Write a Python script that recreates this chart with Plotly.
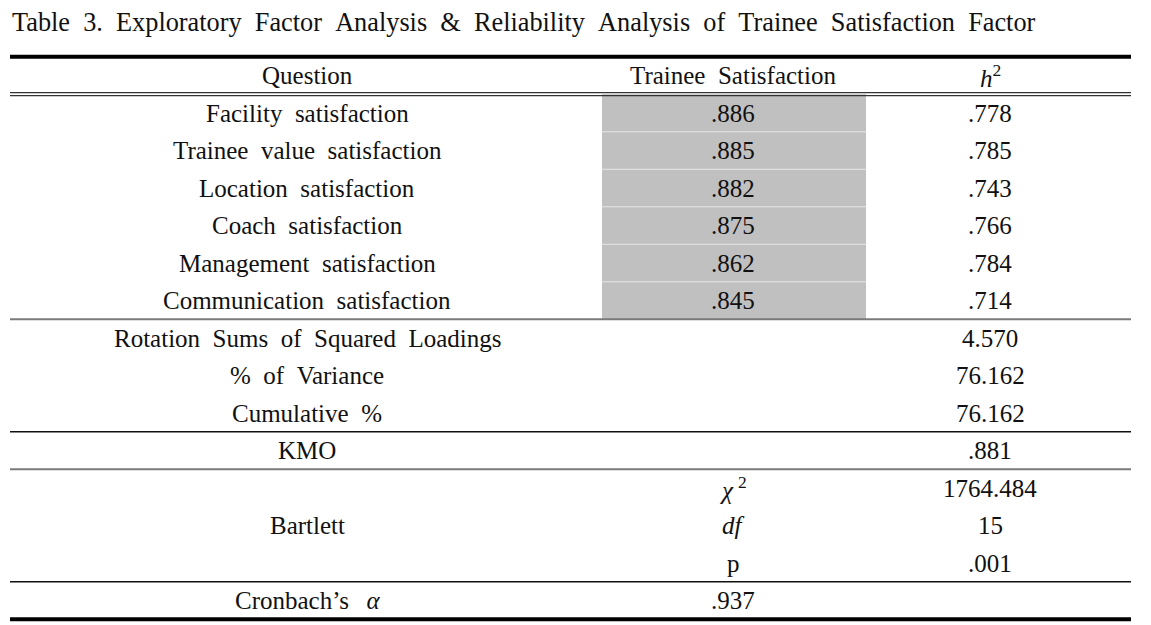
import plotly.graph_objects as go

# ---------------- data ----------------
title = "Table 3. Exploratory Factor Analysis & Reliability Analysis of Trainee Satisfaction Factor"
headers = ["Question", "Trainee Satisfaction", "<i>h</i><sup>2</sup>"]
questions = ["Facility satisfaction", "Trainee value satisfaction", "Location satisfaction",
             "Coach satisfaction", "Management satisfaction", "Communication satisfaction"]
loadings = [".886", ".885", ".882", ".875", ".862", ".845"]
communalities = [".778", ".785", ".743", ".766", ".784", ".714"]
summary_labels = ["Rotation Sums of Squared Loadings", "% of Variance", "Cumulative %"]
summary_values = ["4.570", "76.162", "76.162"]
kmo_label = "KMO"
kmo_value = ".881"
bartlett_label = "Bartlett"
bartlett_stats = ["<i>χ</i>\u2009<sup>2</sup>", "<i>df</i>", "p"]
bartlett_values = ["1764.484", "15", ".001"]
cronbach_label = "Cronbach\u2019s\u2002\u2009<i>α</i>"
cronbach_value = ".937"

# ---------------- layout helpers ----------------
W, H = 1151, 625
X0, X1 = 10, 1131
COLX = [307, 733, 990]
ROW0 = 75.5
RH = 37.5
FONT = "Liberation Serif"
FS = 25
FS_TITLE = 26.3
SP = "\u2002"  # wide word gap as in the source typeface


def wide(s):
    return s.replace(" ", SP)


def yc(k):
    return ROW0 + RH * k


def yb(k):  # boundary below row k
    return ROW0 + RH * k + RH / 2


fig = go.Figure()
fig.add_trace(go.Scatter(x=[0, W], y=[0, H], mode="markers", marker=dict(opacity=0),
                         hoverinfo="skip", showlegend=False))

anns = []
shapes = []


def txt(x, y, s, anchor="center"):
    anns.append(dict(x=x, y=y, xref="x", yref="y", text=wide(s), showarrow=False,
                     xanchor=anchor, yanchor="middle",
                     font=dict(family=FONT, size=FS, color="#111")))


def hline(y, w, color):
    shapes.append(dict(type="line", xref="x", yref="y", x0=X0, x1=X1, y0=y, y1=y,
                       line=dict(color=color, width=w), layer="above"))


# grey loading column
nq = len(questions)
shapes.append(dict(type="rect", xref="x", yref="y", x0=602, x1=866,
                   y0=yb(0), y1=yb(nq), fillcolor="#c0c0c0", line=dict(width=0), layer="below"))
for i in range(1, nq):
    shapes.append(dict(type="line", xref="x", yref="y", x0=602, x1=866, y0=yb(i), y1=yb(i),
                       line=dict(color="#e6e6e6", width=1), layer="below"))

# title
anns.append(dict(x=X0, y=22, xref="x", yref="y", text=wide(title), showarrow=False,
                 xanchor="left", yanchor="middle",
                 font=dict(family=FONT, size=FS_TITLE, color="#111")))

# header
for cx, h in zip(COLX, headers):
    txt(cx, yc(0), h)

k = 1
for q, l, c in zip(questions, loadings, communalities):
    txt(COLX[0], yc(k), q); txt(COLX[1], yc(k), l); txt(COLX[2], yc(k), c)
    k += 1
sum_start = k
for lab, v in zip(summary_labels, summary_values):
    txt(COLX[0], yc(k), lab); txt(COLX[2], yc(k), v)
    k += 1
kmo_row = k
txt(COLX[0], yc(k), kmo_label); txt(COLX[2], yc(k), kmo_value)
k += 1
b_start = k
for s, v in zip(bartlett_stats, bartlett_values):
    txt(COLX[1], yc(k), s); txt(COLX[2], yc(k), v)
    k += 1
txt(COLX[0], yc(b_start + 1), bartlett_label)
cr_row = k
txt(COLX[0], yc(k), cronbach_label); txt(COLX[1], yc(k), cronbach_value)

# rules
hline(yb(-1), 4, "#000")
hline(yb(0) - 1.6, 1.4, "#333")
hline(yb(0) + 1.4, 1.4, "#333")
hline(yb(sum_start - 1), 2, "#7a7a7a")
hline(yb(kmo_row - 1), 1.5, "#111")
hline(yb(kmo_row), 2, "#7a7a7a")
hline(yb(cr_row - 1), 1.5, "#111")
hline(yb(cr_row), 4, "#000")

fig.update_layout(
    width=W, height=H, margin=dict(l=0, r=0, t=0, b=0),
    paper_bgcolor="white", plot_bgcolor="white",
    xaxis=dict(range=[0, W], visible=False, fixedrange=True),
    yaxis=dict(range=[H, 0], visible=False, fixedrange=True),
    annotations=anns, shapes=shapes, showlegend=False,
)
fig.write_html("out.html", config={"displayModeBar": False},
               post_script="document.body.style.margin='0';document.body.style.overflow='hidden';")
